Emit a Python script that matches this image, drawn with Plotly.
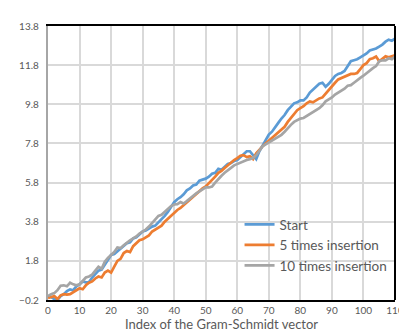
import plotly.graph_objects as go

idx = list(range(111))

start = [0.00, -0.05, -0.15, -0.20, 0.00, 0.10, 0.25, 0.34, 0.30, 0.50,
         0.60, 0.75, 0.70, 0.72, 0.95, 1.10, 1.30, 1.35, 1.60, 1.90,
         2.10, 2.15, 2.30, 2.40, 2.55, 2.70, 2.75, 2.95, 3.00, 3.15,
         3.30, 3.35, 3.45, 3.55, 3.60, 3.75, 3.95, 4.10, 4.30, 4.55,
         4.80, 4.95, 5.05, 5.20, 5.40, 5.50, 5.65, 5.70, 5.90, 5.95,
         6.00, 6.10, 6.25, 6.30, 6.50, 6.45, 6.60, 6.75, 6.80, 6.90,
         6.95, 7.10, 7.20, 7.40, 7.40, 7.20, 7.00, 7.40, 7.70, 8.00,
         8.25, 8.40, 8.60, 8.85, 9.07, 9.25, 9.50, 9.70, 9.85, 9.90,
         10.00, 10.00, 10.15, 10.40, 10.55, 10.70, 10.85, 10.90, 10.70, 10.85,
         11.05, 11.25, 11.35, 11.40, 11.50, 11.75, 12.00, 12.05, 12.10, 12.20,
         12.30, 12.40, 12.55, 12.60, 12.65, 12.75, 12.85, 13.00, 13.10, 13.05,
         13.15]

five_times = [-0.10, -0.05, 0.00, -0.15, 0.04, 0.10, 0.08, 0.10, 0.20, 0.30,
              0.40, 0.35, 0.55, 0.68, 0.75, 0.90, 1.00, 0.95, 1.20, 1.30,
              1.20, 1.50, 1.80, 1.90, 2.20, 2.30, 2.25, 2.55, 2.70, 2.85,
              2.90, 3.00, 3.10, 3.30, 3.40, 3.50, 3.60, 3.80, 3.95, 4.15,
              4.30, 4.40, 4.50, 4.65, 4.80, 4.90, 5.07, 5.20, 5.35, 5.50,
              5.60, 5.75, 5.95, 6.10, 6.30, 6.40, 6.55, 6.70, 6.80, 6.95,
              7.05, 7.17, 7.20, 7.10, 7.15, 7.00, 7.30, 7.50, 7.65, 7.80,
              7.95, 8.05, 8.20, 8.35, 8.50, 8.65, 8.90, 9.10, 9.30, 9.50,
              9.60, 9.70, 9.85, 9.95, 9.90, 10.00, 10.10, 10.15, 10.35, 10.55,
              10.70, 10.90, 11.07, 11.15, 11.20, 11.30, 11.35, 11.35, 11.40, 11.60,
              11.80, 11.90, 12.10, 12.15, 12.24, 12.00, 12.15, 12.25, 12.20, 12.25,
              12.30]

ten_times = [0.00, 0.10, 0.15, 0.30, 0.53, 0.55, 0.50, 0.68, 0.60, 0.55,
             0.60, 0.80, 0.95, 1.00, 1.10, 1.30, 1.50, 1.40, 1.75, 1.95,
             2.10, 2.25, 2.48, 2.45, 2.60, 2.75, 2.85, 2.95, 3.05, 3.20,
             3.30, 3.40, 3.55, 3.75, 3.95, 4.10, 4.15, 4.30, 4.45, 4.60,
             4.68, 4.70, 4.80, 4.73, 4.85, 5.00, 5.10, 5.25, 5.35, 5.45,
             5.56, 5.55, 5.60, 5.80, 6.00, 6.15, 6.30, 6.45, 6.55, 6.68,
             6.75, 6.85, 6.90, 6.95, 7.00, 7.05, 7.20, 7.45, 7.65, 7.75,
             7.85, 7.95, 8.05, 8.15, 8.24, 8.40, 8.60, 8.75, 8.90, 9.00,
             9.07, 9.10, 9.20, 9.30, 9.40, 9.50, 9.60, 9.75, 9.95, 10.05,
             10.15, 10.30, 10.40, 10.50, 10.60, 10.75, 10.78, 10.90, 11.05, 11.15,
             11.26, 11.40, 11.50, 11.65, 11.75, 12.00, 12.05, 12.04, 12.15, 12.10,
             12.24]

names = ["Start", "5 times insertion", "10 times insertion"]
colors = ["#5B9BD5", "#ED7D31", "#A5A5A5"]
series = [start, five_times, ten_times]

fig = go.Figure()
for n, c, s in zip(names, colors, series):
    fig.add_trace(go.Scatter(x=idx, y=s, mode="lines", name=n,
                             line=dict(color=c, width=2.7)))

font_family = "Lato, Liberation Sans, Arial, sans-serif"

fig.update_layout(
    width=407, height=333,
    margin=dict(l=36, r=11, t=11, b=35),
    paper_bgcolor="white", plot_bgcolor="white",
    font=dict(family=font_family, color="#595959", size=10),
    showlegend=True,
    legend=dict(x=0.552, y=0.332, xanchor="left", yanchor="top",
                bgcolor="rgba(0,0,0,0)", font=dict(size=13.5, color="#595959"),
                tracegroupgap=0),
    xaxis=dict(range=[0, 110], tick0=0, dtick=10, showgrid=True,
               gridcolor="#D9D9D9", gridwidth=2, zeroline=False,
               showline=True, linecolor="black", linewidth=2, mirror=True,
               ticks="", ticklabeloverflow="allow",
               tickfont=dict(size=10, color="#595959"),
               title=dict(text="Index of the Gram-Schmidt vector",
                          font=dict(size=13, color="#595959"), standoff=5)),
    yaxis=dict(range=[-0.2, 13.8], tick0=-0.2, dtick=2, showgrid=True,
               gridcolor="#D9D9D9", gridwidth=2, zeroline=False,
               showline=True, linecolor="#A6A6A6", linewidth=2,
               tickformat=".1f", ticks="", ticksuffix="  ",
               tickfont=dict(size=10, color="#595959")),
    shapes=[dict(type="line", xref="paper", yref="paper", x0=1, x1=1, y0=0, y1=1,
                 line=dict(color="black", width=2))],
)

fig.write_html("out.html")
